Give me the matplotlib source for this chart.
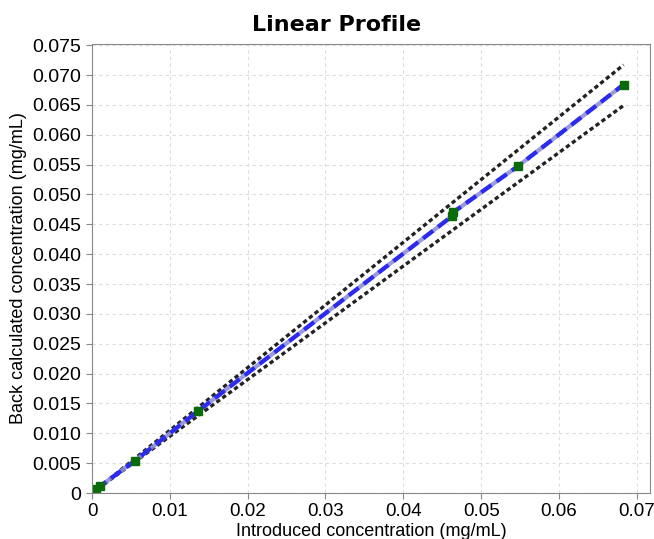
import numpy as np
import matplotlib.pyplot as plt

# Points
x_intro = [0.0005, 0.0010, 0.0055, 0.0136, 0.0463, 0.0464, 0.0548, 0.0683]
y_back = [0.0006, 0.0011, 0.0054, 0.0137, 0.0464, 0.0470, 0.0548, 0.0684]
# Bornes +/- 5 %
x_lim = [0.0, 0.0683]
upper = [0.0, 0.0717]
lower = [0.0, 0.0649]

xticks = [0, 0.01, 0.02, 0.03, 0.04, 0.05, 0.06, 0.07]
xtick_labels = ['0', '0.01', '0.02', '0.03', '0.04', '0.05', '0.06', '0.07']
yticks = [i*0.005 for i in range(16)]
ytick_labels = ['0'] + ['%.3f' % v for v in yticks[1:]]

plt.rcParams['font.family'] = ['Liberation Sans', 'DejaVu Sans']

fig = plt.figure(figsize=(6.54, 5.39), dpi=100)
ax = fig.add_axes([0.1407, 0.0853, 0.8532, 0.8331])

ax.plot(x_lim, upper, color='#222222', lw=2.4, ls=(0, (1.3, 0.9)))
ax.plot(x_lim, lower, color='#222222', lw=2.4, ls=(0, (1.3, 0.9)))
ax.plot(x_intro, y_back, color='#8f8fdc', lw=3, alpha=0.9)
ax.plot(x_intro, y_back, color='#2a2af0', lw=3, ls=(0, (3, 1.5)))
ax.plot(x_intro, y_back, 's', color='#0b6b0b', ms=6, ls='none')

ax.set_xlim(0, 0.0717)
ax.set_ylim(0, 0.0752)
ax.set_xticks(xticks)
ax.set_xticklabels(xtick_labels, fontsize=13.5)
ax.set_yticks(yticks)
ax.set_yticklabels(ytick_labels, fontsize=14)
ax.grid(True, color='#dddddd', ls=(0, (3, 3)), lw=0.8)
ax.set_axisbelow(True)
for s in ax.spines.values():
    s.set_color('#888888')
ax.tick_params(colors='#888888', labelcolor='black', length=4)

fig.suptitle('Linear Profile', x=0.514, y=0.972, fontsize=16, fontweight='bold', family='DejaVu Sans')
ax.set_xlabel('Introduced concentration (mg/mL)', fontsize=13, labelpad=2)
ax.set_ylabel('Back calculated concentration (mg/mL)', fontsize=13, labelpad=4)

fig.savefig('out.png', dpi=100)
